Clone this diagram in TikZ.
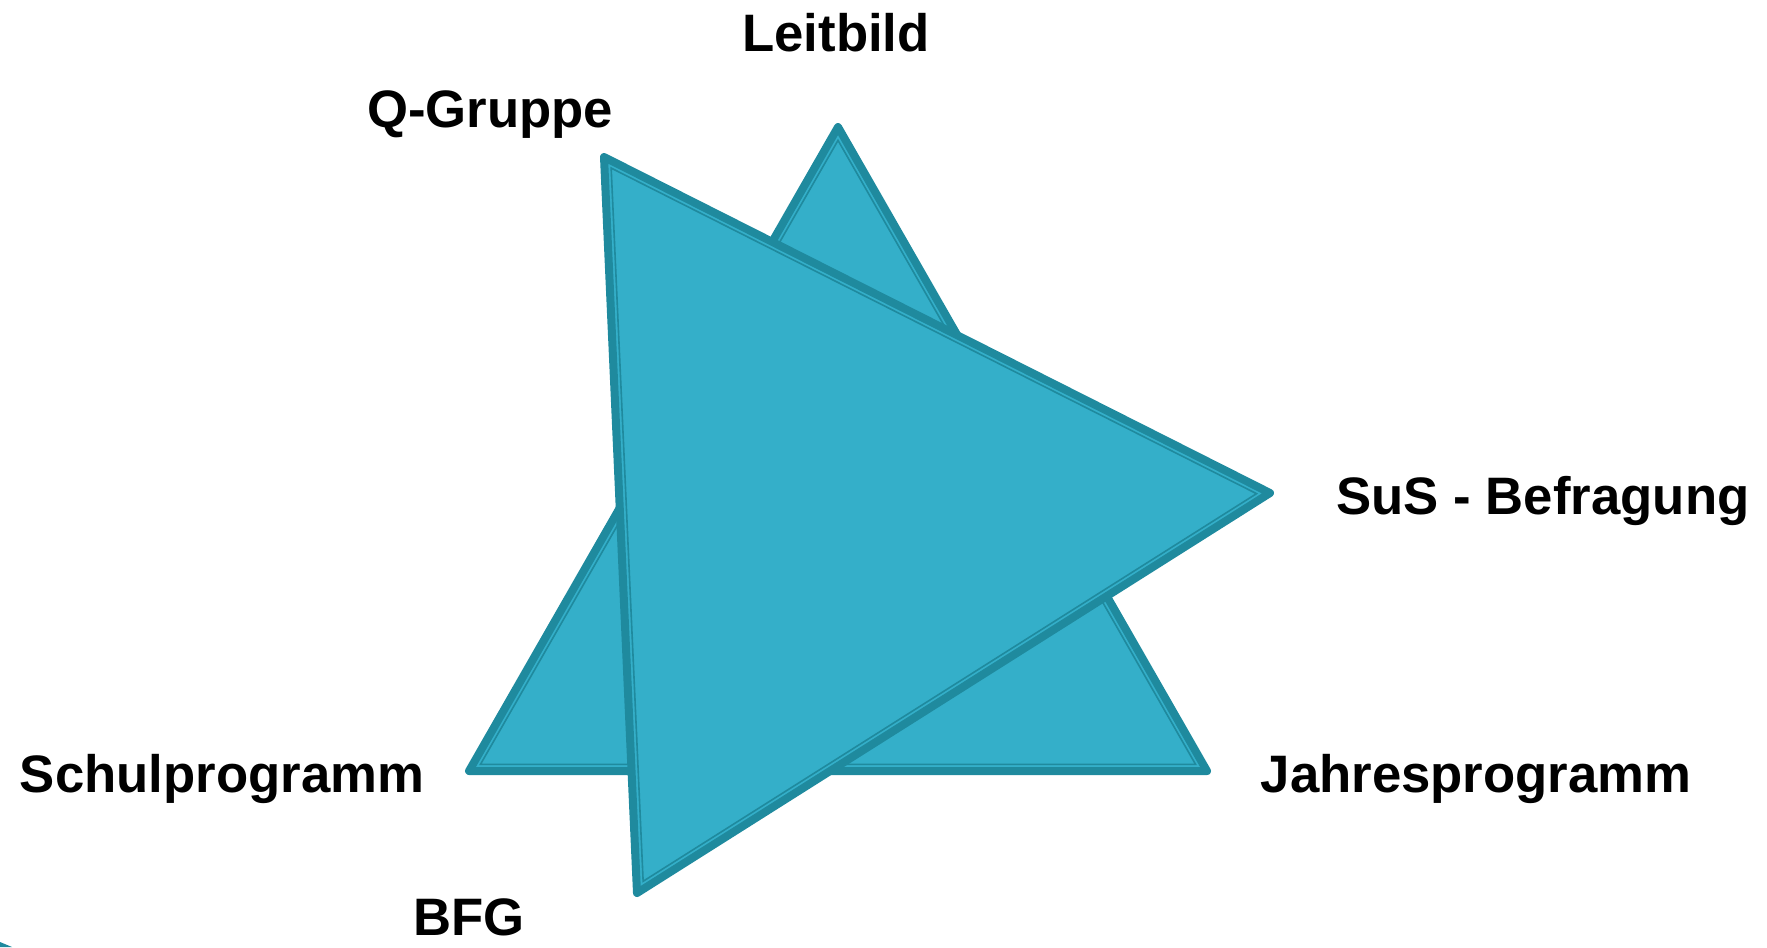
\documentclass[tikz,border=0pt]{standalone}
\usepackage{fontspec}
\setmainfont{Liberation Sans}
\usetikzlibrary{calc}
\definecolor{tfill}{RGB}{52,175,201}
\definecolor{tline}{RGB}{31,138,158}
\tikzset{
  tri/.style={fill=tfill, draw=tline, line width=8*0.02cm, line join=round},
  triinner/.style={draw=tline, line width=1.6*0.02cm, line join=miter},
  lbl/.style={anchor=base, inner sep=0pt, font=\bfseries\fontsize{30}{36}\selectfont, text=black}
}
\begin{document}
\begin{tikzpicture}[x=0.02cm, y=-0.02cm]
\useasboundingbox (0,0) rectangle (1767,947);
% corner that peeks in at the bottom left
\fill[tline] (0,942) -- (12,947) -- (0,947) -- cycle;
% triangle 1 (upright)
\coordinate (A1) at (838,127);
\coordinate (B1) at (469,771);
\coordinate (C1) at (1207,771);
\coordinate (I1) at (838,557.2);
\draw[tri] (A1) -- (B1) -- (C1) -- cycle;
\draw[triinner] ($(I1)!0.969!(A1)$) -- ($(I1)!0.969!(B1)$) -- ($(I1)!0.969!(C1)$) -- cycle;
% triangle 2 (pointing right)
\coordinate (Q2) at (604,157);
\coordinate (S2) at (1270,493);
\coordinate (B2) at (637,893);
\coordinate (I2) at (834.9,514.0);
\draw[tri] (Q2) -- (S2) -- (B2) -- cycle;
\draw[triinner] ($(I2)!0.969!(Q2)$) -- ($(I2)!0.969!(S2)$) -- ($(I2)!0.969!(B2)$) -- cycle;
% labels
\node[lbl] (leitbild) at (836,51) {Leitbild};
\node[lbl] (qgruppe) at (490,127) {Q-Gruppe};
\node[lbl] (sus) at (1543,514) {SuS - Befragung};
\node[lbl] (schul) at (222,792) {Schulprogramm};
\node[lbl] (jahres) at (1476,792) {Jahresprogramm};
\node[lbl] (bfg) at (469,935) {BFG};
\end{tikzpicture}
\end{document}
